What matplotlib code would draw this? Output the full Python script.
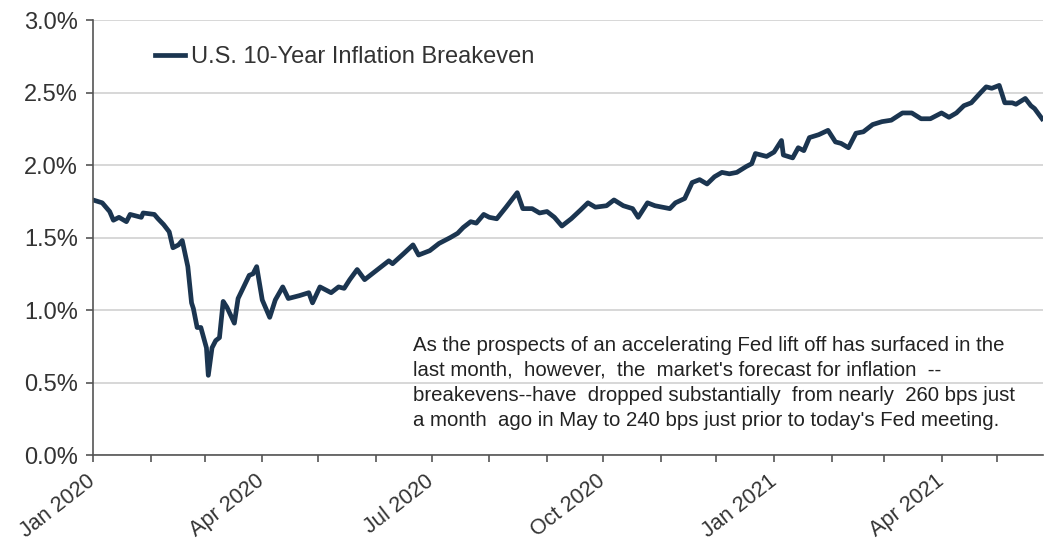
import matplotlib
matplotlib.use("Agg")
import matplotlib.pyplot as plt
import matplotlib.dates as mdates
from matplotlib.ticker import FuncFormatter
import pandas as pd

# days since 2020-01-01 and breakeven level (%)
days = [0, 5, 9, 11, 14, 18, 20, 26, 27, 33,
        35, 38, 41, 43, 46, 48, 51, 53, 54, 56,
        58, 61, 62, 64, 66, 68, 70, 72, 76, 78,
        81, 84, 86, 88, 91, 94, 95, 98, 102, 105,
        111, 116, 118, 122, 125, 128, 132, 135, 138, 142,
        146, 151, 155, 159, 161, 167, 172, 175, 181, 186,
        192, 196, 199, 203, 206, 210, 213, 217, 222, 228,
        231, 236, 240, 244, 248, 252, 257, 262, 266, 270,
        276, 280, 285, 290, 293, 298, 302, 306, 310, 313,
        318, 322, 326, 330, 334, 338, 342, 346, 351, 354,
        356, 362, 366, 370, 371, 376, 379, 382, 385, 390,
        395, 399, 402, 406, 410, 414, 419, 424, 429, 435,
        440, 445, 450, 456, 460, 464, 468, 472, 477, 480,
        483, 487, 490, 494, 496, 501, 504, 506, 510]
breakeven = [1.76, 1.74, 1.68, 1.62, 1.64, 1.61, 1.66, 1.64, 1.67, 1.66,
             1.63, 1.59, 1.54, 1.43, 1.45, 1.48, 1.30, 1.05, 1.01, 0.88,
             0.88, 0.74, 0.55, 0.74, 0.79, 0.81, 1.06, 1.02, 0.91, 1.08,
             1.16, 1.24, 1.25, 1.30, 1.07, 0.98, 0.95, 1.07, 1.16, 1.08,
             1.10, 1.12, 1.05, 1.16, 1.14, 1.12, 1.16, 1.15, 1.21, 1.28,
             1.21, 1.26, 1.30, 1.34, 1.32, 1.39, 1.45, 1.38, 1.41, 1.46,
             1.50, 1.53, 1.57, 1.61, 1.60, 1.66, 1.64, 1.63, 1.71, 1.81,
             1.70, 1.70, 1.67, 1.68, 1.64, 1.58, 1.63, 1.69, 1.74, 1.71,
             1.72, 1.76, 1.72, 1.70, 1.64, 1.74, 1.72, 1.71, 1.70, 1.74,
             1.77, 1.88, 1.90, 1.87, 1.92, 1.95, 1.94, 1.95, 1.99, 2.01,
             2.08, 2.06, 2.09, 2.17, 2.07, 2.05, 2.12, 2.10, 2.19, 2.21,
             2.24, 2.16, 2.15, 2.12, 2.22, 2.23, 2.28, 2.30, 2.31, 2.36,
             2.36, 2.32, 2.32, 2.36, 2.33, 2.36, 2.41, 2.43, 2.50, 2.54,
             2.53, 2.55, 2.43, 2.43, 2.42, 2.46, 2.41, 2.39, 2.32]

start = pd.Timestamp("2020-01-01")
end_day = 510.5
series_label = "U.S. 10-Year Inflation Breakeven"
note = ("As the prospects of an accelerating Fed lift off has surfaced in the\n"
        "last month,  however,  the  market's forecast for inflation  --\n"
        "breakevens--have  dropped substantially  from nearly  260 bps just\n"
        "a month  ago in May to 240 bps just prior to today's Fed meeting.")

dates = start + pd.to_timedelta(days, unit="D")

plt.rcParams["font.family"] = ["Liberation Sans", "DejaVu Sans"]
navy = "#1b3550"
txt = "#333333"

fig = plt.figure(figsize=(10.44, 5.45), dpi=100)
ax = fig.add_axes([0.089, 0.165, 0.910, 0.798])

ax.plot(dates, breakeven, color=navy, lw=3.4, solid_joinstyle="round",
        label=series_label)

ax.set_ylim(0, 3.0)
ax.set_yticks([0, 0.5, 1.0, 1.5, 2.0, 2.5, 3.0])
ax.yaxis.set_major_formatter(FuncFormatter(lambda v, p: f"{v:.1f}%"))
ax.grid(axis="y", color="#d4d4d4", lw=1.3)
ax.set_axisbelow(True)

ax.set_xlim(start, start + pd.Timedelta(days=end_day))
ax.xaxis.set_major_locator(mdates.MonthLocator(bymonth=[1, 4, 7, 10]))
ax.xaxis.set_minor_locator(mdates.MonthLocator())
ax.xaxis.set_major_formatter(mdates.DateFormatter("%b %Y"))

for s in ["top", "right"]:
    ax.spines[s].set_visible(False)
for s in ["left", "bottom"]:
    ax.spines[s].set_color("#555555")
    ax.spines[s].set_linewidth(1.2)

ax.tick_params(axis="y", labelsize=17, colors="#555555", labelcolor=txt,
               length=5, width=1.2, pad=6)
ax.tick_params(axis="x", which="both", colors="#555555", length=5, width=1.2)
ax.tick_params(axis="x", which="major", labelsize=15.5, labelcolor=txt, pad=12)
for lab in ax.get_xticklabels():
    lab.set_rotation(38)
    lab.set_ha("right")
    lab.set_va("center")
    lab.set_rotation_mode("anchor")

ax.legend(loc="center left", bbox_to_anchor=(0.065, 0.915), frameon=False,
          fontsize=17, handlelength=1.3, handletextpad=0.25, borderpad=0,
          borderaxespad=0, labelcolor=txt)

ax.text(0.337, 0.274, note, transform=ax.transAxes, fontsize=14.7,
        color="#222222", va="top", ha="left", linespacing=1.4)

fig.savefig("out.png", dpi=100)
